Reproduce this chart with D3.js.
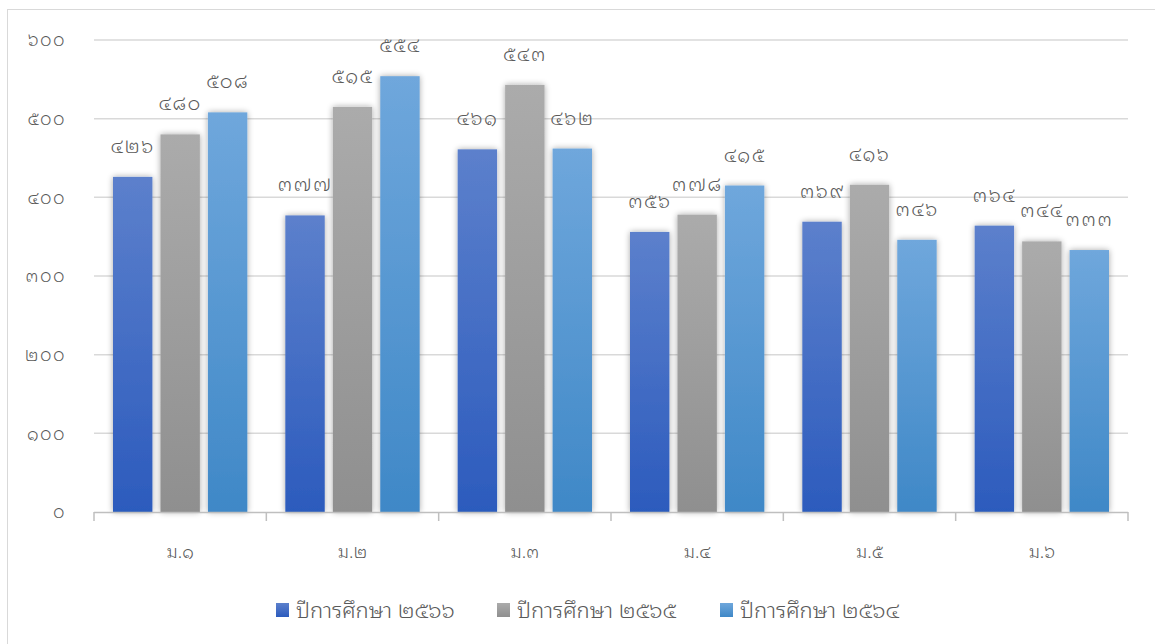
<!DOCTYPE html>
<html><head><meta charset="utf-8">
<script src="https://cdn.jsdelivr.net/npm/d3@7/dist/d3.min.js"></script>
<style>body{margin:0;background:#fff;} text{font-family:"Noto Sans Thai Looped","Noto Sans Thai",sans-serif;fill:#595959;font-weight:300;}</style>
</head><body>
<svg id="c" width="1155" height="644"></svg>
<script>
const categories = ["ม.๑","ม.๒","ม.๓","ม.๔","ม.๕","ม.๖"];
const seriesNames = ["ปีการศึกษา ๒๕๖๖","ปีการศึกษา ๒๕๖๕","ปีการศึกษา ๒๕๖๔"];
const s2566 = [426,377,461,356,369,364];
const s2565 = [480,515,543,378,416,344];
const s2564 = [508,554,462,415,346,333];
const yTicks = [0,100,200,300,400,500,600];

const thai = n => String(n).replace(/[0-9]/g, d => "๐๑๒๓๔๕๖๗๘๙"[+d]);
const svg = d3.select("#c");
const defs = svg.append("defs");
const grads = [["#5c80cc","#2c5bbd"],["#ababab","#8f8f8f"],["#6fa7dc","#3f88c7"]];
grads.forEach((g,i)=>{
  const lg = defs.append("linearGradient").attr("id","g"+i).attr("x1",0).attr("y1",0).attr("x2",0).attr("y2",1);
  lg.append("stop").attr("offset","0%").attr("stop-color",g[0]);
  lg.append("stop").attr("offset","100%").attr("stop-color",g[1]);
});
const f = defs.append("filter").attr("id","sh").attr("x","-30%").attr("y","-10%").attr("width","160%").attr("height","120%");
f.append("feGaussianBlur").attr("in","SourceAlpha").attr("stdDeviation",3).attr("result","b");
f.append("feOffset").attr("in","b").attr("dx",0).attr("dy",0).attr("result","o");
f.append("feComponentTransfer").append("feFuncA").attr("type","linear").attr("slope",0.35);
const m = f.append("feMerge"); m.append("feMergeNode"); m.append("feMergeNode").attr("in","SourceGraphic");

svg.append("rect").attr("x",7.5).attr("y",9.5).attr("width",1170).attr("height",660).attr("fill","none").attr("stroke","#d9d9d9");

const L=94,R=1128,T=40,B=512;
const x = d3.scaleBand().domain(categories).range([L,R]).paddingInner(0).paddingOuter(0);
const y = d3.scaleLinear().domain([0,600]).range([B,T]);
const xs = d3.scaleBand().domain([0,1,2]).range([19, x.bandwidth()-19]).paddingInner(0.17);

// gridlines
svg.append("g").selectAll("line").data(yTicks.filter(t=>t>0)).join("line")
  .attr("x1",L).attr("x2",R).attr("y1",d=>y(d)).attr("y2",d=>y(d))
  .attr("stroke","#d9d9d9").attr("stroke-width",1.5);
// y labels
svg.append("g").selectAll("text").data(yTicks).join("text")
  .attr("x",66).attr("y",d=>y(d)).attr("dy","0.35em").attr("text-anchor","end")
  .attr("font-size",18).attr("letter-spacing",1.5).text(d=>thai(d));

const data = [s2566,s2565,s2564];
data.forEach((s,i)=>{
  const g = svg.append("g");
  g.selectAll("rect").data(s).join("rect")
    .attr("x",(d,j)=>x(categories[j])+xs(i)).attr("width",xs.bandwidth())
    .attr("y",d=>y(d)).attr("height",d=>B-y(d))
    .attr("fill","url(#g"+i+")").attr("filter","url(#sh)");
});
data.forEach((s,i)=>{
  svg.append("g").selectAll("text").data(s).join("text")
    .attr("x",(d,j)=>x(categories[j])+xs(i)+xs.bandwidth()/2)
    .attr("y",d=>y(d)-31).attr("dy","0.35em").attr("text-anchor","middle").attr("font-size",20).attr("letter-spacing",1.5)
    .text(d=>thai(d));
});

// x axis
const ax = svg.append("g");
ax.append("line").attr("x1",L).attr("x2",R).attr("y1",B+0.5).attr("y2",B+0.5).attr("stroke","#bfbfbf").attr("stroke-width",1.5);
ax.selectAll("line.t").data(categories.concat([null])).join("line").attr("class","t")
  .attr("x1",(d,j)=>L+j*x.bandwidth()).attr("x2",(d,j)=>L+j*x.bandwidth())
  .attr("y1",B).attr("y2",B+9).attr("stroke","#bfbfbf").attr("stroke-width",1.5);
ax.selectAll("text").data(categories).join("text")
  .attr("x",d=>x(d)+x.bandwidth()/2).attr("y",552).attr("dy","0.35em")
  .attr("text-anchor","middle").attr("font-size",18).text(d=>d);

// legend
const lgX=[276,497,720];
const lg = svg.append("g");
seriesNames.forEach((n,i)=>{
  lg.append("rect").attr("x",lgX[i]).attr("y",603).attr("width",13).attr("height",14).attr("fill","url(#g"+i+")");
  lg.append("text").attr("x",lgX[i]+20).attr("y",610).attr("dy","0.35em").attr("font-size",22).text(n);
});
</script>
</body></html>
